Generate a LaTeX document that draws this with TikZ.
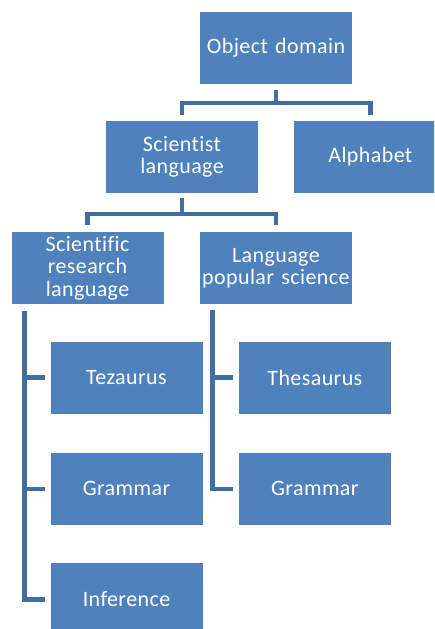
\documentclass[tikz,border=0pt]{standalone}
\usepackage{fontspec}
\setmainfont{Carlito}[Ligatures=NoCommon,WordSpace=0.6,LetterSpace=1.8]
\usetikzlibrary{positioning}
\definecolor{boxblue}{HTML}{4F81BD}
\definecolor{linkblue}{HTML}{416FA4}

\begin{document}
\begin{tikzpicture}[x=1pt,y=-1pt,
  box/.style={fill=boxblue,text=white,text width=152pt,inner sep=0pt,
    minimum height=72pt,align=center,font=\fontsize{22}{22.5}\selectfont},
  link/.style={draw=linkblue,line width=4.5pt},
  node distance=36pt]

		\path[use as bounding box,clip] (0,0) rectangle (434,629);

		% the top of the tree
		\node[box] (obj) at (276,48) {Object domain};
		\node[box] (sci) at (182,157) {Scientist\\language};
		\node[box,right=of sci] (alpha) {Alphabet};

		% the two languages
		\node[box] (sres) at (87.5,268) {Scientific\\research\\language};
		\node[box,right=of sres] (lpop) {Language\\popular science};

		% left list
		\node[box] (tez) at (126.5,377.5) {Tezaurus};
		\node[box,below=39pt of tez] (gram) {Grammar};
		\node[box,below=38pt of gram] (inf) {Inference};

		% right list
		\node[box,right=of tez] (thes) {Thesaurus};
		\node[box,below=39pt of thes] (gramb) {Grammar};

		% tree links
		\draw[link,shorten <=6pt,shorten >=6pt] (obj.south) -- ++(0,19) -| (sci.north);
		\draw[link,shorten <=6pt,shorten >=6pt] (obj.south) -- ++(0,19) -| (alpha.north);
		\draw[link,shorten <=5pt,shorten >=7pt] (sci.south) -- ++(0,21) -| (sres.north);
		\draw[link,shorten <=5pt,shorten >=7pt] (sci.south) -- ++(0,21) -| (lpop.north);

		% list brackets
		\draw[link,shorten <=7pt,shorten >=5pt] ([xshift=13pt]sres.south west) |- (tez.west);
		\draw[link,shorten <=7pt,shorten >=5pt] ([xshift=13pt]sres.south west) |- (gram.west);
		\draw[link,shorten <=7pt,shorten >=5pt] ([xshift=13pt]sres.south west) |- (inf.west);
		\draw[link,shorten <=6pt,shorten >=6pt] ([xshift=13pt]lpop.south west) |- (thes.west);
		\draw[link,shorten <=6pt,shorten >=6pt] ([xshift=13pt]lpop.south west) |- (gramb.west);

	\end{tikzpicture}
\end{document}
